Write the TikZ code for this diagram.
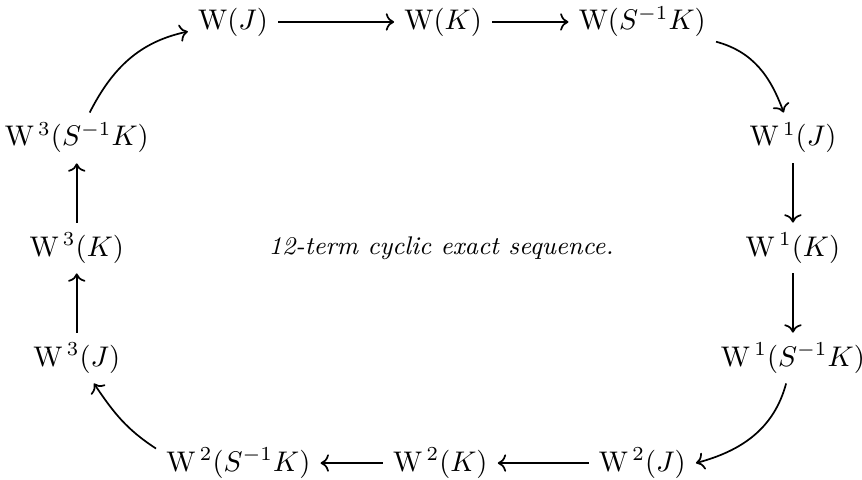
\documentclass[tikz,border=0pt]{standalone}
\usepackage{amsmath}
\usetikzlibrary{arrows.meta,positioning}
\newcommand{\Wup}[1]{\mathrm{W}^{\,#1}}
\begin{document}
\begin{tikzpicture}[>=To, line width=0.6pt]
\useasboundingbox (0,0) rectangle (10.67,5.93);
% the twelve groups
\foreach \name/\pos/\lab in {wj/{2.885,5.658}/{\mathrm{W}(J)}, wk/{5.485,5.658}/{\mathrm{W}(K)},
    ws/{7.95,5.658}/{\mathrm{W}(S^{-1}K)},
    waj/{9.815,4.222}/{\Wup{1}(J)}, wak/{9.815,2.86}/{\Wup{1}(K)}, was/{9.815,1.498}/{\Wup{1}(S^{-1}K)},
    wbj/{7.95,0.198}/{\Wup{2}(J)}, wbk/{5.45,0.198}/{\Wup{2}(K)}, wbs/{2.95,0.198}/{\Wup{2}(S^{-1}K)},
    wcj/{0.95,1.498}/{\Wup{3}(J)}, wck/{0.95,2.86}/{\Wup{3}(K)}, wcs/{0.95,4.222}/{\Wup{3}(S^{-1}K)}}
  \node (\name) at (\pos) {$\lab$};
\node[font=\small] (title) at (5.46,2.86) {\textit{12-term cyclic exact sequence.}};
% straight maps
\foreach \a/\b in {wj/wk, wk/ws, waj/wak, wak/was, wbj/wbk, wbk/wbs, wcj/wck, wck/wcs}
  \draw[->] (\a) -- (\b);
% connecting maps round the corners
\draw[->] (wcs) to[out=63, in=192] (wj);
\draw[->] (ws) to[out=-15, in=110] (waj);
\draw[->] (was) to[out=-105, in=15] (wbj.east);
\draw[->] (wbs.170) to[out=147, in=-56] (wcj);
\end{tikzpicture}
\end{document}
